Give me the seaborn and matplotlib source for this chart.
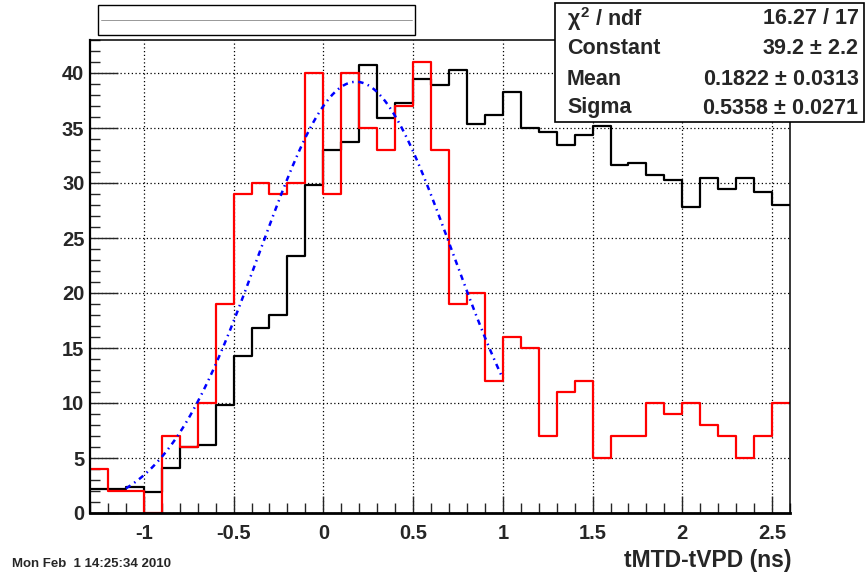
import numpy as np
import pandas as pd
import matplotlib
matplotlib.use("Agg")
import matplotlib.pyplot as plt
import seaborn as sns
from matplotlib.ticker import MultipleLocator, FuncFormatter

# ---- data ----
bin_edges = [round(-1.3 + 0.1 * i, 2) for i in range(40)]
red_counts = [4, 2, 2, 0, 7, 6, 10, 19, 29, 30, 29, 30, 40, 29, 40, 35, 33, 37, 41, 33,
              19, 20, 12, 16, 15, 7, 11, 12, 5, 7, 7, 10, 9, 10, 8, 7, 5, 7, 10]
black_counts = [2.2, 2.2, 2.4, 1.9, 4.1, 6.0, 6.2, 9.8, 14.3, 16.8, 18.0, 23.4, 29.8, 33.0,
                33.7, 40.7, 35.9, 37.3, 39.5, 38.9, 40.3, 35.4, 36.2, 38.3, 35.0, 34.6,
                33.5, 34.4, 35.2, 31.6, 31.8, 30.7, 30.3, 27.8, 30.5, 29.5, 30.5, 29.2, 28.0]
fit_constant, fit_mean, fit_sigma = 39.2, 0.1822, 0.5358
fit_range = (-1.1, 1.0)
stats_labels = [r"$\chi^{2}$ / ndf", "Constant", "Mean", "Sigma"]
stats_values = ["16.27 / 17", r"39.2 $\pm$ 2.2", r"0.1822 $\pm$ 0.0313", r"0.5358 $\pm$ 0.0271"]
xlabel = "tMTD-tVPD (ns)"
date_text = "Mon Feb  1 14:25:34 2010"

edges = np.array(bin_edges)
centers = (edges[:-1] + edges[1:]) / 2
df = pd.DataFrame({"x": centers, "red": red_counts, "black": black_counts})

sns.set_style("white")
plt.rcParams["font.family"] = ["Liberation Sans", "DejaVu Sans"]
plt.rcParams["axes.unicode_minus"] = False
plt.rcParams["mathtext.fontset"] = "custom"
plt.rcParams["mathtext.rm"] = "Liberation Sans:bold"
plt.rcParams["mathtext.it"] = "Liberation Sans:bold"
plt.rcParams["mathtext.bf"] = "Liberation Sans:bold"

fig = plt.figure(figsize=(8.65, 5.77), dpi=100)
ax = fig.add_axes([90/865, 1-513/577, (790-90)/865, (513-40)/577])

sns.histplot(data=df, x="x", weights="black", bins=bin_edges, element="step",
             fill=False, color="black", linewidth=1.6, ax=ax)
sns.histplot(data=df, x="x", weights="red", bins=bin_edges, element="step",
             fill=False, color="red", linewidth=1.6, ax=ax)

xf = np.linspace(fit_range[0], fit_range[1], 200)
yf = fit_constant * np.exp(-0.5 * ((xf - fit_mean) / fit_sigma) ** 2)
sns.lineplot(x=xf, y=yf, color="blue", linestyle=(0, (2.2, 1.8, 0.6, 1.8)),
             linewidth=1.8, ax=ax)

ax.set_xlabel("")
ax.set_ylabel("")
ax.xaxis.set_major_locator(MultipleLocator(0.5))
ax.xaxis.set_minor_locator(MultipleLocator(0.1))
ax.yaxis.set_major_locator(MultipleLocator(5))
ax.yaxis.set_minor_locator(MultipleLocator(1))
fmt = FuncFormatter(lambda v, p: "%g" % round(v, 6))
ax.xaxis.set_major_formatter(fmt)
ax.yaxis.set_major_formatter(fmt)
ax.set_xlim(-1.3, 2.6)
ax.set_ylim(0, 43)
ax.grid(True, which="major", linestyle=(0, (1, 2)), color="black", linewidth=0.9)
ax.tick_params(which="both", direction="in", top=False, right=False, bottom=True, left=True,
               labelsize=14.5, width=1)
ax.tick_params(axis="x", which="major", length=12, pad=8)
ax.tick_params(axis="y", which="major", length=20, pad=4)
ax.tick_params(which="minor", length=7)
for lbl in ax.get_xticklabels() + ax.get_yticklabels():
    lbl.set_fontweight("bold")
for s in ax.spines.values():
    s.set_color("black")
    s.set_linewidth(1.1)
ax.spines["bottom"].set_linewidth(2)
ax.spines["left"].set_linewidth(1.6)

# title box
fig.patches.append(plt.Rectangle((98/865, 1-35/577), (415-98)/865, 30/577,
                                 transform=fig.transFigure, fill=False,
                                 edgecolor="black", linewidth=1))
fig.lines.append(plt.Line2D([101/865, 412/865], [1-20/577, 1-20/577],
                            transform=fig.transFigure, color="#888888", linewidth=0.6))

# stats box
fig.patches.append(plt.Rectangle((555/865, 1-122/577), (864-555)/865, 119/577,
                                 transform=fig.transFigure, facecolor="white",
                                 edgecolor="black", linewidth=1.2, zorder=5))
rows_y = [19, 49, 80, 108]
for lab, val, yy in zip(stats_labels, stats_values, rows_y):
    fig.text(567/865, 1-yy/577, lab, fontsize=15.5, fontweight="bold",
             ha="left", va="center", zorder=6)
    fig.text(859/865, 1-yy/577, val, fontsize=15.5, fontweight="bold",
             ha="right", va="center", zorder=6)

fig.text(791/865, 1-560/577, xlabel, fontsize=16.5, fontweight="bold", ha="right", va="center")
fig.text(12/865, 1-564/577, date_text, fontsize=9.5, fontweight="bold", ha="left", va="center")

fig.savefig("out.png", dpi=100, facecolor="white")
